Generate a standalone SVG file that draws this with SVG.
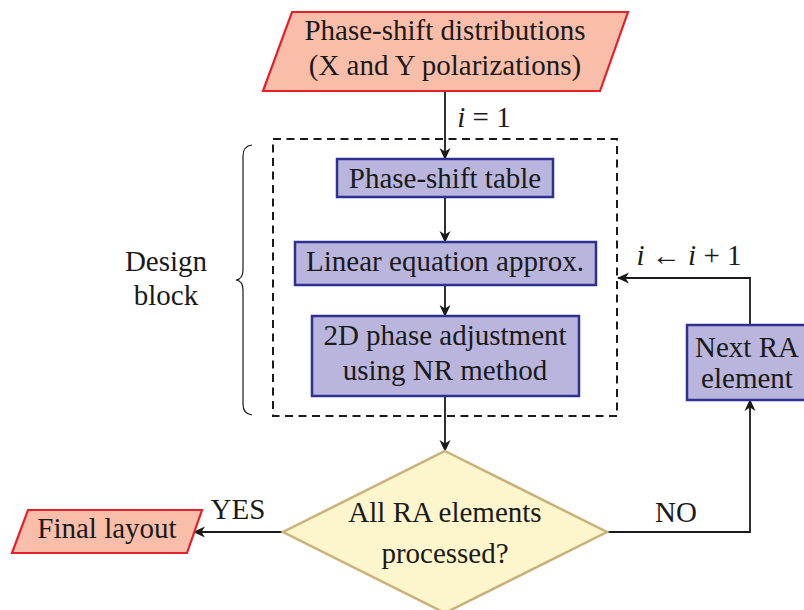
<svg xmlns="http://www.w3.org/2000/svg" width="804" height="610" viewBox="0 0 804 610">
<defs>
<style>
text{font-size:29px;fill:#1a1a1a;text-anchor:middle}
.io{fill:#f9bea9;stroke:#e3202b;stroke-width:2.2}
.proc{fill:#b9b5dd;stroke:#2e3192;stroke-width:2.5}
.dec{fill:#fdf5cb;stroke:#c9b27a;stroke-width:2.5}
.conn{fill:none;stroke:#1a1a1a;stroke-width:1.8}
.dash{fill:none;stroke:#1a1a1a;stroke-width:2;stroke-dasharray:8 5.5}
.brace{fill:none;stroke:#1a1a1a;stroke-width:1.2}
.it{font-style:italic}
</style>
<marker id="ah" viewBox="0 0 12 12" refX="11" refY="6" markerWidth="12" markerHeight="12" markerUnits="userSpaceOnUse" orient="auto">
<path d="M0,0.5 L12,6 L0,11.5 L3.5,6 Z" fill="#1a1a1a"/>
</marker>
</defs>
<g font-family="'Liberation Serif', 'DejaVu Serif', serif">
<g id="design-block">
<rect class="dash" x="273" y="139" width="344" height="277"/>
<path class="brace" d="M252,145 Q243,146 243,156 L243,270 Q243,279 236,280 Q243,281 243,290 L243,404 Q243,414 252,415"/>
<text x="166" y="271">Design</text>
<text x="166" y="305">block</text>
</g>

<g id="connectors">
<path class="conn" d="M445,91 L445,159" marker-end="url(#ah)"/>
<path class="conn" d="M445,197 L445,242" marker-end="url(#ah)"/>
<path class="conn" d="M445,285 L445,316" marker-end="url(#ah)"/>
<path class="conn" d="M445,396 L445,451" marker-end="url(#ah)"/>
<path class="conn" d="M283,532 L194,532" marker-end="url(#ah)"/>
<path class="conn" d="M607,532 L750,532 L750,400" marker-end="url(#ah)"/>
<path class="conn" d="M750,325 L750,278 L618,278" marker-end="url(#ah)"/>
<text x="484" y="127"><tspan class="it">i</tspan> = 1</text>
<text x="238" y="519">YES</text>
<text x="676" y="522">NO</text>
<text x="689" y="265"><tspan class="it">i</tspan> ← <tspan class="it">i</tspan> + 1</text>
</g>

<g id="input">
<polygon class="io" points="292,12 628,12 600,91 263,91"/>
<text x="445" y="40">Phase-shift distributions</text>
<text x="445" y="75">(X and Y polarizations)</text>
</g>

<g id="phase-table">
<rect class="proc" x="337" y="159" width="216" height="38"/>
<text x="445" y="188">Phase-shift table</text>
</g>

<g id="linear-approx">
<rect class="proc" x="295" y="242" width="301" height="43"/>
<text x="445" y="271">Linear equation approx.</text>
</g>

<g id="phase-adjust">
<rect class="proc" x="312" y="316" width="267" height="80"/>
<text x="445" y="345">2D phase adjustment</text>
<text x="445" y="380">using NR method</text>
</g>

<g id="decision">
<polygon class="dec" points="445,451 607,532 445,613 283,532"/>
<text x="445" y="522">All RA elements</text>
<text x="445" y="563">processed?</text>
</g>

<g id="next-ra">
<rect class="proc" x="687" y="325" width="120" height="75"/>
<text x="747" y="357">Next RA</text>
<text x="747" y="388">element</text>
</g>

<g id="final-layout">
<polygon class="io" points="28,510 202,510 187,553 12,553"/>
<text x="107" y="538">Final layout</text>
</g>
</g>
</svg>
